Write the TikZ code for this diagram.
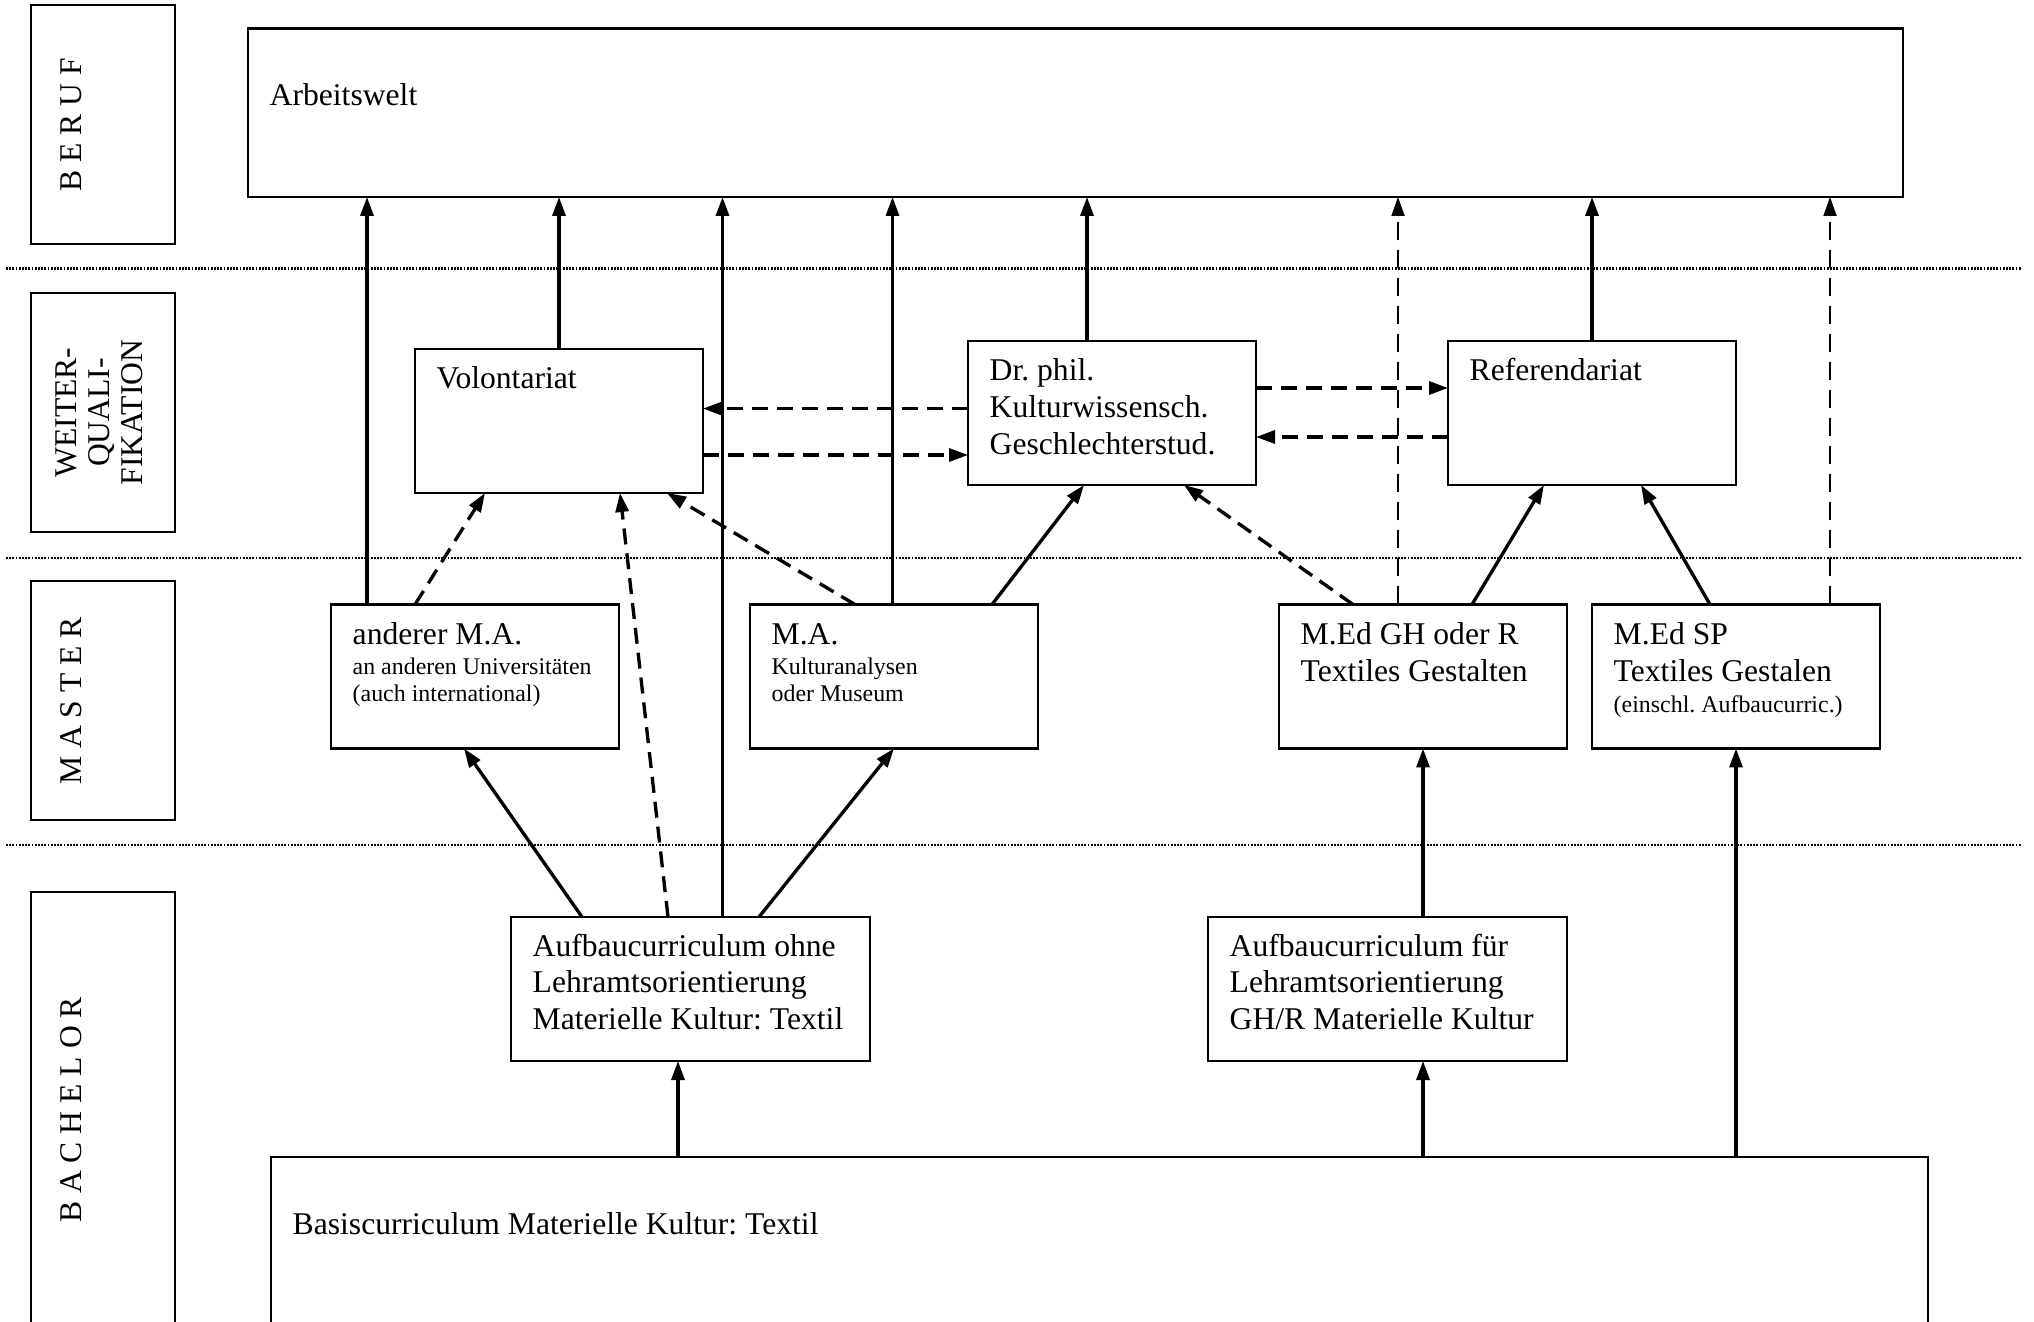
\documentclass[tikz,border=0pt]{standalone}
\usepackage{fontspec}
\setmainfont{Liberation Serif}
\usetikzlibrary{arrows.meta,calc}
\newcommand{\smallf}{\fontsize{6.8}{7.7}\selectfont}
\frenchspacing
\begin{document}
\begin{tikzpicture}[x=0.1mm,y=-0.1mm,
  box/.style={draw,line width=0.6pt,inner sep=0pt,outer sep=0pt,anchor=north west,minimum width=28.8mm,minimum height=14.4mm},
  wide/.style={minimum width=35.9mm},
  lbl/.style={draw,line width=0.75pt,inner sep=0pt,outer sep=0pt,anchor=north west,minimum width=14.4mm,minimum height=23.9mm},
  txt/.style={anchor=base west,inner sep=0pt,font=\fontsize{9}{10.4}\selectfont\frenchspacing},
  rot/.style={rotate=90,anchor=base,inner sep=0pt,font=\fontsize{9}{10.4}\selectfont},
  sep/.style={line width=0.6pt,dash pattern=on 0.18mm off 0.14mm},
  arr/.style={-{Triangle[length=1.9mm,width=1.3mm]},line width=0.95pt},
  darr/.style={arr,dash pattern=on 1.6mm off 0.9mm},
  tdarr/.style={-{Triangle[length=1.9mm,width=1.3mm]},line width=0.5pt,dash pattern=on 1.8mm off 1mm},
]
\useasboundingbox (0,0) rectangle (2034,1322);
\begin{scope}
\clip (0,0) rectangle (2034,1322);

% level labels
\node[lbl] (lberuf) at (31,5) {};
\node[lbl] (lweiter) at (31,293) {};
\node[lbl] (lmaster) at (31,581) {};
\node[lbl,minimum height=45mm] (lbachelor) at (31,892) {};
\node[rot] (tberuf) at (81.5,124.5) {B E R U F};
\node[rot] (tw1) at (76,412.5) {WEITER-};
\node[rot] (tw2) at (109,412.5) {QUALI-};
\node[rot] (tw3) at (142,412.5) {FIKATION};
\node[rot] (tmaster) at (81.5,701) {M A S T E R};
\node[rot] (tbachelor) at (81.5,1110) {B A C H E L O R};

% separators
\draw[sep] (6,268.5) -- (2021,268.5);
\draw[sep] (6,558) -- (2021,558);
\draw[sep] (6,845) -- (2021,845);

% boxes
\node[box,minimum width=165.5mm,minimum height=16.85mm] (arb) at (248,28.5) {};
\node[box] (vol) at (415,349) {};
\node[box] (dr) at (968,341) {};
\node[box] (ref) at (1448,341) {};
\node[box] (ama) at (331,604.5) {};
\node[box] (ma) at (750,604.5) {};
\node[box] (medgh) at (1279,604.5) {};
\node[box] (medsp) at (1592,604.5) {};
\node[box,wide] (aohne) at (511,917) {};
\node[box,wide] (afuer) at (1208,917) {};
\node[box,minimum width=165.7mm,minimum height=30mm] (basis) at (271,1157) {};

% texts
\node[txt] (tarb) at ($(arb.north west)+(21,77.5)$) {Arbeitswelt};
\node[txt] (tvol) at ($(vol.north west)+(21,40)$) {Volontariat};
\node[txt] (tdr) at ($(dr.north west)+(21,40)$) {\vtop{\hbox{Dr. phil.}\hbox{Kulturwissensch.}\hbox{Geschlechterstud.}}};
\node[txt] (tref) at ($(ref.north west)+(21,40)$) {Referendariat};
\node[txt] (tama) at ($(ama.north west)+(21,40.5)$) {\vtop{\hbox{anderer M.A.}\kern0.8pt\smallf\hbox{an anderen Universitäten}\hbox{(auch international)}}};
\node[txt] (tma) at ($(ma.north west)+(21,40.5)$) {\vtop{\hbox{M.A.}\kern0.8pt\smallf\hbox{Kulturanalysen}\hbox{oder Museum}}};
\node[txt] (tmedgh) at ($(medgh.north west)+(21,40.5)$) {\vtop{\hbox{M.Ed GH oder R}\hbox{Textiles Gestalten}}};
\node[txt] (tmedsp) at ($(medsp.north west)+(21,40.5)$) {\vtop{\hbox{M.Ed SP}\hbox{Textiles Gestalen}\kern1.2pt\smallf\hbox{(einschl. Aufbaucurric.)}}};
\node[txt] (taohne) at ($(aohne.north west)+(21,39)$) {\vtop{\hbox{Aufbaucurriculum ohne}\hbox{Lehramtsorientierung}\hbox{Materielle Kultur: Textil}}};
\node[txt] (tafuer) at ($(afuer.north west)+(21,39)$) {\vtop{\hbox{Aufbaucurriculum für}\hbox{Lehramtsorientierung}\hbox{GH/R Materielle Kultur}}};
\node[txt] (tbasis) at ($(basis.north west)+(21,77)$) {Basiscurriculum Materielle Kultur: Textil};

% arrows into Arbeitswelt
\coordinate (c1) at ($(ama.north west)+(36,0)$);
\draw[arr] (c1) -- (c1 |- arb.south);
\draw[arr] (vol.north) -- (vol.north |- arb.south);
\coordinate (c2) at ($(aohne.north west)+(211.5,0)$);
\draw[arr] (c2) -- (c2 |- arb.south);
\coordinate (c3) at ($(ma.north west)+(142.5,0)$);
\draw[arr] (c3) -- (c3 |- arb.south);
\coordinate (c4) at ($(dr.north west)+(119,0)$);
\draw[arr] (c4) -- (c4 |- arb.south);
\coordinate (c5) at ($(medgh.north west)+(119,0)$);
\draw[tdarr] (c5) -- (c5 |- arb.south);
\draw[arr] (ref.north) -- (ref.north |- arb.south);
\coordinate (c6) at ($(medsp.north west)+(238,0)$);
\draw[tdarr] (c6) -- (c6 |- arb.south);

% master -> weiterqualifikation
\draw[darr] ($(ama.north west)+(84,0)$) -- ($(vol.south west)+(70,0)$);
\draw[darr] ($(aohne.north west)+(157,0)$) -- ($(vol.south west)+(205,0)$);
\draw[darr] ($(ma.north west)+(105,0)$) -- ($(vol.south west)+(252,0)$);
\draw[arr] ($(ma.north west)+(242,0)$) -- ($(dr.south west)+(116,0)$);
\draw[darr] ($(medgh.north west)+(74,0)$) -- ($(dr.south west)+(216,0)$);
\draw[arr] ($(medgh.north west)+(193,0)$) -- ($(ref.south west)+(96,0)$);
\draw[arr] ($(medsp.north west)+(118,0)$) -- ($(ref.south west)+(193,0)$);

% bachelor -> master
\draw[arr] ($(aohne.north west)+(71,0)$) -- ($(ama.south west)+(133,0)$);
\draw[arr] ($(aohne.north west)+(248,0)$) -- (ma.south);
\draw[arr] (medgh.south |- afuer.north) -- (medgh.south);
\draw[arr] ($(basis.north west)+(407,0)$) -- ($(aohne.south west)+(167,0)$);
\draw[arr] (medgh.south |- basis.north) -- (medgh.south |- afuer.south);
\draw[arr] (medsp.south |- basis.north) -- (medsp.south);

% horizontal dashed between weiterqualifikation boxes
\draw[darr] ($(dr.north west)+(0,67.6)$) -- ($(vol.north east)+(0,59.6)$);
\draw[darr] ($(vol.north east)+(0,106)$) -- ($(dr.north west)+(0,114)$);
\draw[darr] ($(dr.north east)+(0,47)$) -- ($(ref.north west)+(0,47)$);
\draw[darr] ($(ref.north west)+(0,96)$) -- ($(dr.north east)+(0,96)$);
\end{scope}
\end{tikzpicture}
\end{document}
